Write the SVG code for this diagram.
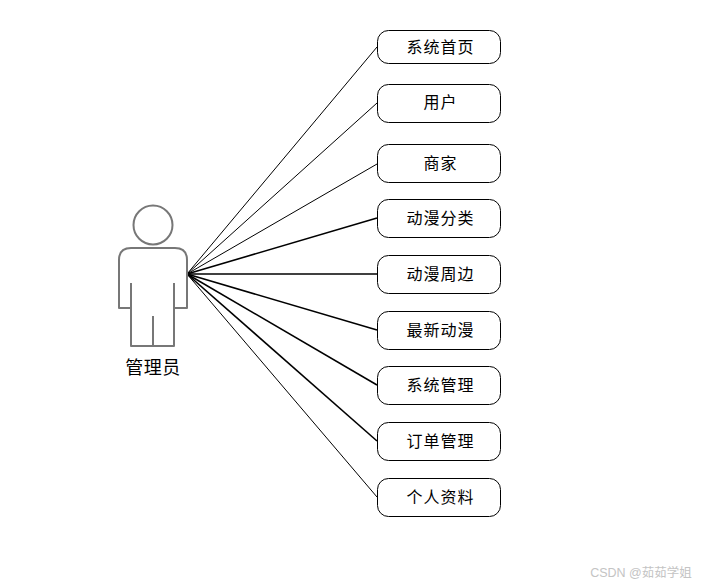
<svg xmlns="http://www.w3.org/2000/svg" width="701" height="586" viewBox="0 0 701 586">
<style>
.n rect{fill:#fff;stroke:#000;stroke-width:1}
text{font-family:"Liberation Sans","Noto Sans CJK SC",sans-serif;font-size:16px;fill:#000;text-anchor:middle;letter-spacing:1px}
.c line{stroke:#000;stroke-width:1}
.c .b{stroke-width:1.6}
.a{fill:#fff;stroke:#777;stroke-width:2;stroke-linejoin:round}
</style>
<rect width="701" height="586" fill="#fff"/>
<g id="connectors" class="c">
<line x1="187" y1="274" x2="377" y2="47"/>
<line x1="187" y1="274" x2="377" y2="103"/>
<line x1="187" y1="274" x2="377" y2="164"/>
<line class="b" x1="187" y1="274" x2="377" y2="218"/>
<line class="b" x1="187" y1="274" x2="377" y2="274"/>
<line class="b" x1="187" y1="274" x2="377" y2="330"/>
<line class="b" x1="187" y1="274" x2="377" y2="385"/>
<line class="b" x1="187" y1="274" x2="377" y2="441"/>
<line x1="187" y1="274" x2="377" y2="497"/>
</g>
<g id="actor">
<circle class="a" cx="153" cy="225" r="19.5"/>
<path class="a" d="M131 248H175Q187 248 187 260V308H174V346H131V308H119V260Q119 248 131 248Z"/>
<path class="a" fill="none" d="M131 283V346M174 283V346M153 316V346"/>
<text x="153" y="374" style="font-size:18px;letter-spacing:0.5px">管理员</text>
</g>
<g id="n1" class="n"><rect x="377.500" y="30.500" width="123" height="33" rx="11"/><text x="440.500" y="53">系统首页</text></g>
<g id="n2" class="n"><rect x="377.500" y="84.500" width="123" height="38" rx="11"/><text x="440.500" y="108">用户</text></g>
<g id="n3" class="n"><rect x="377.500" y="144.500" width="123" height="38" rx="11"/><text x="440.500" y="169">商家</text></g>
<g id="n4" class="n"><rect x="377.500" y="199.500" width="123" height="38" rx="11"/><text x="440.500" y="224">动漫分类</text></g>
<g id="n5" class="n"><rect x="377.500" y="255.500" width="123" height="38" rx="11"/><text x="440.500" y="280">动漫周边</text></g>
<g id="n6" class="n"><rect x="377.500" y="311.500" width="123" height="38" rx="11"/><text x="440.500" y="336">最新动漫</text></g>
<g id="n7" class="n"><rect x="377.500" y="366.500" width="123" height="38" rx="11"/><text x="440.500" y="391">系统管理</text></g>
<g id="n8" class="n"><rect x="377.500" y="422.500" width="123" height="38" rx="11"/><text x="440.500" y="447">订单管理</text></g>
<g id="n9" class="n"><rect x="377.500" y="478.500" width="123" height="38" rx="11"/><text x="440.500" y="503">个人资料</text></g>
<text x="641" y="577" style="font-size:12.500px;fill:#c4c4c4;letter-spacing:0">CSDN @茹茹学姐</text>
</svg>
